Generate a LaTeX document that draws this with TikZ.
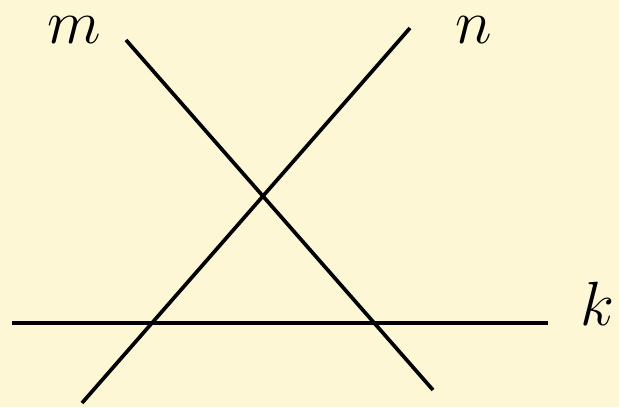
\documentclass[tikz,border=0pt]{standalone}
\usepackage{graphicx}
\definecolor{bgyellow}{RGB}{253,247,214}
\begin{document}
\begin{tikzpicture}[x=0.02cm,y=-0.02cm,
  ln/.style={line width=2.1pt},
  lbl/.style={font=\Huge, anchor=base, inner sep=0pt}]
\fill[bgyellow] (0,0) rectangle (619,407);
\useasboundingbox (0,0) rectangle (619,407);
\coordinate (k1) at (12,323);
\coordinate (k2) at (548,323);
\coordinate (m1) at (126,40);
\coordinate (m2) at (433,390);
\coordinate (n1) at (410,28);
\coordinate (n2) at (82,403);
\draw[ln] (k1) -- (k2);
\draw[ln] (m1) -- (m2);
\draw[ln] (n1) -- (n2);
\node[lbl] (lm) at (74,43) {\scalebox{1.43}{$m$}};
\node[lbl] (ln) at (474,43) {\scalebox{1.43}{$n$}};
\node[lbl] (lk) at (597,325) {\scalebox{1.43}{$k$}};
\end{tikzpicture}
\end{document}
